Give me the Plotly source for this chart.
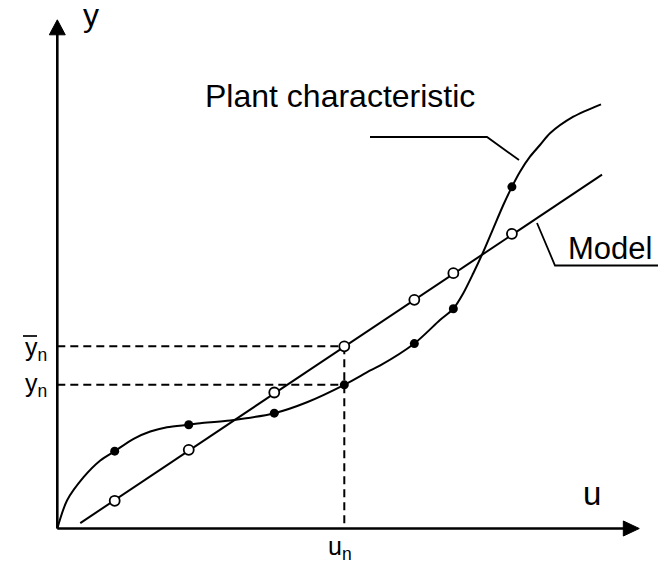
import plotly.graph_objects as go

# ---------------- data (units: u, y) ----------------
sample_u = [1.0, 2.29, 3.78, 5.0, 6.22, 6.9, 7.92]
plant_y_samples = [1.347, 1.808, 2.009, 2.503, 3.222, 3.828, 5.952]
model_y_samples = [0.483, 1.371, 2.369, 3.174, 3.984, 4.448, 5.134]

plant_curve_u = [0.0, 0.169, 0.458, 0.749, 1.0, 1.329, 1.62, 1.911, 2.29, 2.491,
                 3.014, 3.78, 4.35, 5.0, 5.453, 5.627, 6.22, 6.667, 6.9, 7.073,
                 7.247, 7.422, 7.596, 7.77, 7.92, 8.061, 8.235, 8.409, 8.584,
                 8.99, 9.472]
plant_curve_y = [0.0, 0.488, 0.894, 1.185, 1.347, 1.563, 1.69, 1.765, 1.808, 1.834,
                 1.882, 2.009, 2.2, 2.503, 2.753, 2.84, 3.222, 3.632, 3.828, 4.098,
                 4.446, 4.822, 5.23, 5.636, 5.952, 6.216, 6.477, 6.681, 6.885,
                 7.174, 7.39]

model_line_u = [0.40, 9.49]
model_line_y = [0.094, 6.165]

n_index = 3  # operating point u_n

# ---------------- figure geometry ----------------
W, H = 658, 563
OX, OY, S = 57.3, 528.5, 57.4  # pixel origin and pixels per unit
FONT = "Arial, Liberation Sans, sans-serif"


def px(x):
    return x / W


def py(y):
    return 1 - y / H


fig = go.Figure()

# dashed guide lines
un = sample_u[n_index]
ybar = model_y_samples[n_index]
yn = plant_y_samples[n_index]
dash_style = dict(color="black", width=2, dash="8px,5px")
fig.add_trace(go.Scatter(x=[0, un], y=[ybar, ybar], mode="lines", line=dash_style, hoverinfo="skip"))
fig.add_trace(go.Scatter(x=[0, un], y=[yn, yn], mode="lines", line=dash_style, hoverinfo="skip"))
fig.add_trace(go.Scatter(x=[un, un], y=[ybar, 0], mode="lines", line=dash_style, hoverinfo="skip"))

# model line
fig.add_trace(go.Scatter(x=model_line_u, y=model_line_y, mode="lines",
                         line=dict(color="black", width=2), name="Model"))
# plant curve
fig.add_trace(go.Scatter(x=plant_curve_u, y=plant_curve_y, mode="lines",
                         line=dict(color="black", width=2, shape="spline", smoothing=0.8),
                         name="Plant characteristic"))
# markers
fig.add_trace(go.Scatter(x=sample_u, y=model_y_samples, mode="markers",
                         marker=dict(size=10, color="white", line=dict(color="black", width=1.8))))
fig.add_trace(go.Scatter(x=sample_u, y=plant_y_samples, mode="markers",
                         marker=dict(size=9, color="black")))

shapes = []
# axes
shapes.append(dict(type="line", xref="x", yref="y", x0=0, y0=0, x1=0, y1=8.62,
                   line=dict(color="black", width=2.6)))
shapes.append(dict(type="line", xref="x", yref="y", x0=0, y0=0, x1=9.88, y1=0,
                   line=dict(color="black", width=2.6)))
shapes.append(dict(type="path", xref="x", yref="y",
                   path="M 0 8.862 L -0.139 8.601 L 0.139 8.601 Z",
                   fillcolor="black", line=dict(color="black", width=1)))
shapes.append(dict(type="path", xref="x", yref="y",
                   path="M 10.139 0 L 9.861 0.131 L 9.861 -0.131 Z",
                   fillcolor="black", line=dict(color="black", width=1)))
# leaders
shapes.append(dict(type="path", xref="paper", yref="paper",
                   path=f"M {px(370)} {py(137)} L {px(487)} {py(137)} L {px(519)} {py(160)}",
                   line=dict(color="black", width=1.8)))
shapes.append(dict(type="path", xref="paper", yref="paper",
                   path=f"M {px(537)} {py(223)} L {px(555)} {py(265.5)} L {px(658)} {py(265.5)}",
                   line=dict(color="black", width=1.8)))
# overbar on y-bar label
shapes.append(dict(type="line", xref="paper", yref="paper", x0=px(23), y0=py(336), x1=px(37), y1=py(336),
                   line=dict(color="black", width=1.7)))

annotations = [
    dict(text="y", x=px(91), y=py(15), size=32),
    dict(text="u", x=px(591.5), y=py(493), size=33),
    dict(text="Plant characteristic", x=px(202.5), y=py(96), xanchor="left", size=32),
    dict(text="Model", x=px(566), y=py(248), xanchor="left", size=31),
    dict(text="u<sub>n</sub>", x=px(325.5), y=py(548), xanchor="left", size=25),
    dict(text="y<sub>n</sub>", x=px(23), y=py(385), xanchor="left", size=25),
    dict(text="y<sub>n</sub>", x=px(23), y=py(349), xanchor="left", size=25),
]
for a in annotations:
    size = a.pop("size")
    a.update(xref="paper", yref="paper", showarrow=False, yanchor="middle",
             font=dict(family=FONT, color="black", size=size))
    a.setdefault("xanchor", "center")

fig.update_layout(
    width=W, height=H,
    margin=dict(l=0, r=0, t=0, b=0),
    paper_bgcolor="white", plot_bgcolor="white",
    showlegend=False,
    xaxis=dict(range=[-OX / S, (W - OX) / S], visible=False, fixedrange=True),
    yaxis=dict(range=[(OY - H) / S, OY / S], visible=False, fixedrange=True),
    shapes=shapes,
    annotations=annotations,
    font=dict(family=FONT, color="black"),
)

fig.write_html("out.html", config={"displayModeBar": False, "staticPlot": True},
               post_script="document.body.style.margin='0';")
